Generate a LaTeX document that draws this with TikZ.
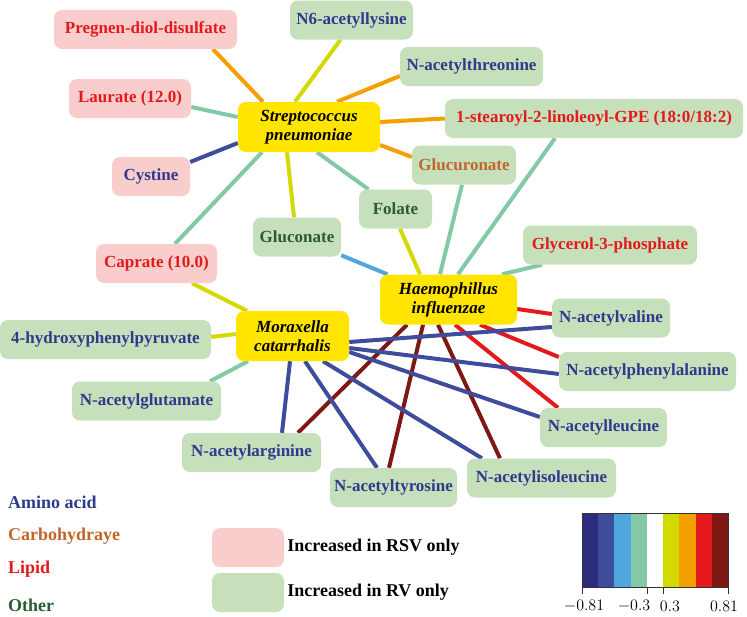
\RequirePackage{fix-cm}
\documentclass[tikz,border=0pt]{standalone}
\usepackage{fontspec}
\setmainfont{Liberation Serif}
\usetikzlibrary{backgrounds,positioning}
\definecolor{aminoblue}{HTML}{2F3A8C}
\definecolor{carbobrown}{HTML}{C1652B}
\definecolor{lipidred}{HTML}{E31A1C}
\definecolor{othergreen}{HTML}{2B5C2E}
\definecolor{rsvpink}{HTML}{F8CDCB}
\definecolor{rvgreen}{HTML}{C6E0BC}
\definecolor{bactyellow}{HTML}{FFE500}
\definecolor{cb1}{HTML}{2C2D7C}
\definecolor{cb2}{HTML}{3F4C9C}
\definecolor{cb3}{HTML}{4FA7DD}
\definecolor{cb4}{HTML}{84C9A6}
\definecolor{cb5}{HTML}{FFFFFF}
\definecolor{cb6}{HTML}{D3DA00}
\definecolor{cb7}{HTML}{F4A000}
\definecolor{cb8}{HTML}{E3191B}
\definecolor{cb9}{HTML}{7E1812}
\tikzset{
	every node/.style={
		font=\fontsize{17}{19}\selectfont\bfseries
	},
	metab/.style={
		shape=rectangle,
		minimum height=39pt,
		inner xsep=4pt,
		inner ysep=2pt,
		rounded corners=8pt,
		text centered
	},
	rsvbox/.style={metab, fill=rsvpink},
	rvbox/.style={metab, fill=rvgreen},
	bacterium/.style={
		shape=rectangle,
		minimum height=50pt,
		rounded corners=8pt,
		fill=bactyellow,
		align=center,
		font=\fontsize{17}{19}\selectfont\bfseries\itshape
	},
	amino/.style={text=aminoblue},
	carbo/.style={text=carbobrown},
	lipid/.style={text=lipidred},
	other/.style={text=othergreen},
	legendtext/.style={anchor=west, inner sep=0pt, font=\fontsize{18}{20}\selectfont\bfseries},
	link/.style={line width=4pt},
	bluelink/.style={link, draw=cb2},
	skylink/.style={link, draw=cb3},
	mintlink/.style={link, draw=cb4},
	limelink/.style={link, draw=cb6},
	orangelink/.style={link, draw=cb7},
	redlink/.style={link, draw=cb8},
	darkredlink/.style={link, draw=cb9},
	ticklabel/.style={font=\fontsize{16}{18}\selectfont, inner sep=0pt}
}

\begin{document}
\begin{tikzpicture}[x=1pt,y=-1pt]
	\useasboundingbox (0,0) rectangle (747,616);

	% Bacterias
	\node[bacterium, minimum width=142pt] (strep) at (309,127)   {Streptococcus\\pneumoniae};
	\node[bacterium, minimum width=137pt] (haem)  at (448.5,299.5) {Haemophillus\\influenzae};
	\node[bacterium, minimum width=113pt] (mora)  at (292.5,336) {Moraxella\\catarrhalis};

	% Metabolitos
	\node[rsvbox, lipid, minimum width=183pt] (preg) at (145.5,29.5) {Pregnen-diol-disulfate};
	\node[rvbox,  amino, minimum width=123pt] (nsix) at (351.5,20)   {N6-acetyllysine};
	\node[rsvbox, lipid, minimum width=122pt] (laur) at (130,98.5)   {Laurate (12.0)};
	\node[rvbox,  amino, minimum width=143pt] (thr)  at (471.5,66.5) {N-acetylthreonine};
	\node[rvbox,  lipid, minimum width=298pt] (ste)  at (594,118.5)  {1-stearoyl-2-linoleoyl-GPE (18:0/18:2)};
	\node[rsvbox, amino, minimum width=78pt]  (cys)  at (151,176.5)  {Cystine};
	\node[rvbox,  carbo, minimum width=104pt] (glcu) at (464,165)    {Glucuronate};
	\node[rvbox,  other, minimum width=73pt]  (fol)  at (395.5,209)  {Folate};
	\node[rvbox,  other, minimum width=88pt]  (glcn) at (297,237)    {Gluconate};
	\node[rsvbox, lipid, minimum width=121pt] (capr) at (156.5,263.5) {Caprate (10.0)};
	\node[rvbox,  lipid, minimum width=174pt] (glyc) at (610,245)    {Glycerol-3-phosphate};
	\node[rvbox,  amino, minimum width=211pt] (hpp)  at (105.5,339.5) {4-hydroxyphenylpyruvate};
	\node[rvbox,  amino, minimum width=149pt] (glut) at (146.5,401)  {N-acetylglutamate};
	\node[rvbox,  amino, minimum width=139pt] (arg)  at (251.5,452.5) {N-acetylarginine};
	\node[rvbox,  amino, minimum width=118pt] (val)  at (611,318)    {N-acetylvaline};
	\node[rvbox,  amino, minimum width=177pt] (phe)  at (647.5,371.5) {N-acetylphenylalanine};
	\node[rvbox,  amino, minimum width=127pt] (leu)  at (603.5,427.5) {N-acetylleucine};
	\node[rvbox,  amino, minimum width=149pt] (ile)  at (541.5,478)  {N-acetylisoleucine};
	\node[rvbox,  amino, minimum width=127pt] (tyr)  at (393.5,487.5) {N-acetyltyrosine};

	\begin{scope}[on background layer]
	% Streptococcus pneumoniae
	\path ([xshift=67.5pt]preg.south) edge[orangelink] ([xshift=-46pt]strep.north)
	([xshift=-11pt]nsix.south)  edge[limelink]   ([xshift=-14pt]strep.north)
	([yshift=-9.5pt]thr.west)   edge[orangelink] ([xshift=28pt]strep.north)
	(ste.west)                  edge[orangelink] ([yshift=5pt]strep.east)
	([yshift=8pt]glcu.west)     edge[orangelink] ([yshift=-18pt]strep.east)
	([yshift=-8.5pt]laur.east)  edge[mintlink]   ([yshift=10pt]strep.west)
	([yshift=14.5pt]cys.east)   edge[bluelink]   ([yshift=-16pt]strep.west)
	([xshift=18.5pt]capr.north) edge[mintlink]   ([xshift=-47pt]strep.south)
	([xshift=-3pt]glcn.north)   edge[limelink]   ([xshift=-22pt]strep.south)
	([xshift=-27pt]fol.north)   edge[mintlink]   ([xshift=8pt]strep.south);

	% Haemophillus influenzae
	\path ([xshift=4.5pt]fol.south) edge[limelink] ([xshift=-28.5pt]haem.north)
	([xshift=-2pt]glcu.south)   edge[mintlink]    ([xshift=-8.5pt]haem.north)
	([xshift=-39pt]ste.south)   edge[mintlink]    ([xshift=9.5pt]haem.north)
	([xshift=-68pt]glyc.south)  edge[mintlink]    ([xshift=53.5pt]haem.north)
	(glcn)                      edge[skylink]     (haem)
	([yshift=-9.5pt]haem.east)  edge[redlink]     ([yshift=4pt]val.west)
	([xshift=31.5pt]haem.south) edge[redlink]     ([yshift=14.5pt]phe.west)
	([xshift=6.5pt]haem.south)  edge[redlink]     ([xshift=-45.5pt]leu.north)
	([xshift=-10.5pt]haem.south) edge[darkredlink] ([xshift=-41.5pt]ile.north)
	([xshift=-25.5pt]haem.south) edge[darkredlink] ([xshift=-4.5pt]tyr.north)
	([xshift=-41.5pt]haem.south) edge[darkredlink] ([xshift=46.5pt]arg.north);

	% Moraxella catarrhalis
	\path ([xshift=35.5pt]capr.south) edge[limelink] ([xshift=-45.5pt]mora.north)
	([yshift=2.5pt]hpp.east)    edge[limelink]  ([yshift=2pt]mora.west)
	([xshift=63.5pt]glut.north) edge[mintlink]  ([xshift=-44.5pt]mora.south)
	([xshift=-2.5pt]mora.south) edge[bluelink]  ([xshift=30.5pt]arg.north)
	([xshift=12.5pt]mora.south) edge[bluelink]  ([xshift=-16.5pt]tyr.north)
	([xshift=30.5pt]mora.south) edge[bluelink]  ([xshift=-59.5pt]ile.north)
	([yshift=-16pt]mora.east)   edge[bluelink]  ([yshift=10.5pt]leu.west)
	([yshift=-12pt]mora.east)   edge[bluelink]  ([yshift=-2.5pt]phe.west)
	([yshift=-6pt]mora.east)    edge[bluelink]  ([yshift=-9pt]val.west);
	\end{scope}

	% Leyenda
	\node[legendtext, amino] (lamino) at (8,502) {Amino acid};
	\node[legendtext, carbo] (lcarbo) at (8,536) {Carbohydraye};
	\node[legendtext, lipid] (llipid) at (8,569) {Lipid};
	\node[legendtext, other] (lother) at (8,605) {Other};
	\node[rsvbox, minimum width=72pt] (lrsv) at (248,547.5) {};
	\node[rvbox,  minimum width=72pt] (lrv)  at (248,592.5) {};
	\node[legendtext, right=3pt of lrsv.east] (lrsvtext) {Increased in RSV only};
	\node[legendtext, right=3pt of lrv.east]  (lrvtext)  {Increased in RV only};

	% Barra de color
	\foreach \c [count=\i from 0] in {cb1,cb2,cb3,cb4,cb5,cb6,cb7,cb8,cb9}
		\fill[\c] (582+\i*16.222,513) rectangle ++(16.222,74);
	\draw[black!80, line width=0.8pt] (582,513) rectangle (728,587);
	\foreach \x in {582,647,663,728}
		\draw[black!80, line width=0.8pt] (\x,587) -- (\x,594);
	\node[ticklabel] (tneg)  at (584,606) {$-0.81$};
	\node[ticklabel] (tnegs) at (634,606) {$-0.3$};
	\node[ticklabel] (tposs) at (670,606) {$0.3$};
	\node[ticklabel] (tpos)  at (724,606) {$0.81$};
\end{tikzpicture}
\end{document}
